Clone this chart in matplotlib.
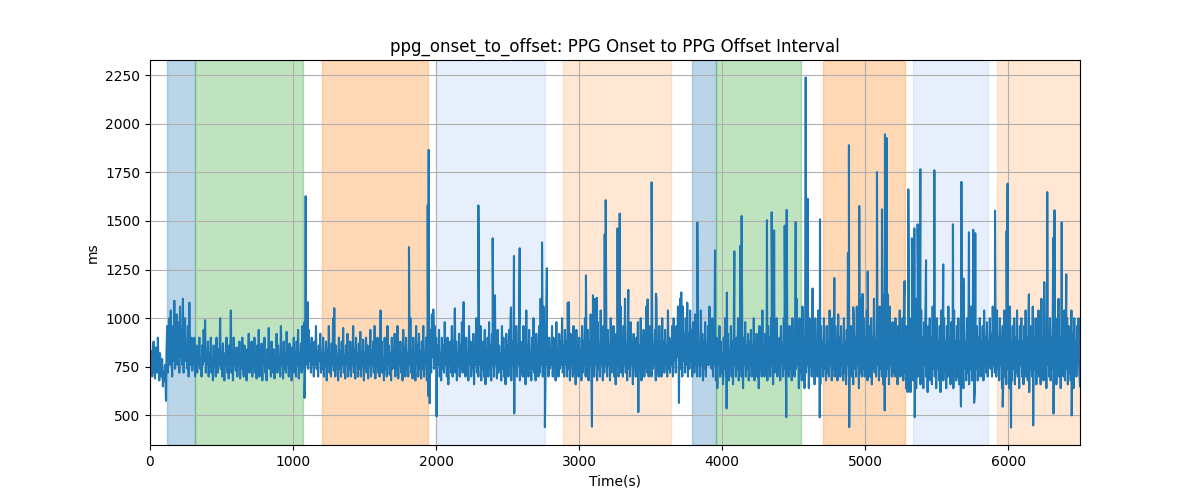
import matplotlib.pyplot as plt
import numpy as np

# baseline readings, one every 5 s from 0 to 6500
BASE_STEP = 5
base_values = [
    870, 760, 830, 700, 800, 880, 740, 690, 850, 780, 720, 900, 760, 680, 820, 740, 700, 790, 650, 720,
    680, 760, 640, 820, 960, 720, 880, 1000, 760, 1040, 820, 700, 960, 780, 1090, 740, 900, 1020, 760, 860,
    980, 720, 1060, 800, 940, 760, 1100, 720, 880, 1000, 780, 860, 740, 960, 700, 1080, 820, 760, 900, 730,
    840, 760, 900, 700, 780, 860, 720, 830, 760, 900, 740, 800, 700, 860, 760, 940, 780, 990, 720, 820,
    760, 880, 700, 820, 750, 900, 720, 790, 680, 860, 760, 830, 700, 900, 770, 720, 840, 760, 1000, 740,
    800, 700, 870, 740, 680, 820, 760, 900, 720, 800, 690, 860, 760, 1040, 720, 830, 680, 900, 760, 800,
    730, 850, 700, 790, 760, 880, 690, 820, 740, 900, 760, 700, 860, 720, 800, 680, 840, 770, 920, 720,
    820, 740, 880, 700, 790, 760, 900, 720, 830, 690, 860, 760, 940, 700, 800, 740, 870, 680, 820, 760,
    900, 720, 790, 680, 840, 760, 950, 740, 820, 700, 880, 760, 720, 840, 690, 800, 760, 920, 720, 860,
    740, 800, 700, 960, 760, 830, 690, 880, 740, 790, 720, 930, 760, 820, 700, 870, 740, 800, 680, 850,
    760, 900, 720, 830, 700, 880, 760, 940, 690, 820, 760, 870, 720, 960, 800, 740, 980, 800, 900, 760,
    880, 740, 940, 780, 860, 720, 900, 760, 820, 700, 880, 760, 960, 740, 830, 700, 860, 780, 920, 720,
    800, 740, 900, 700, 820, 760, 880, 680, 840, 760, 960, 720, 820, 700, 870, 760, 1000, 730, 840, 700,
    860, 760, 800, 680, 900, 740, 830, 700, 880, 760, 950, 720, 810, 690, 860, 760, 920, 700, 820, 740,
    880, 700, 800, 760, 960, 720, 840, 690, 900, 760, 820, 700, 870, 740, 930, 700, 810, 760, 890, 680,
    820, 740, 900, 720, 860, 690, 800, 760, 940, 700, 830, 760, 880, 720, 960, 690, 840, 760, 900, 720,
    820, 700, 1040, 760, 880, 720, 800, 680, 900, 740, 830, 700, 960, 760, 860, 710, 820, 680, 900, 740,
    800, 760, 920, 700, 860, 740, 960, 690, 830, 760, 880, 720, 810, 680, 940, 760, 850, 700, 900, 740,
    820, 700, 880, 760, 1000, 720, 840, 690, 900, 740, 820, 680, 960, 760, 860, 700, 920, 740, 830, 690,
    880, 740, 960, 700, 820, 760, 900, 680, 1000, 600, 860, 760, 940, 720, 1020, 800, 880, 740, 960, 760,
    900, 720, 860, 760, 940, 700, 820, 680, 900, 740, 860, 720, 980, 760, 840, 700, 900, 660, 820, 760,
    880, 720, 960, 700, 840, 760, 1040, 720, 880, 680, 820, 760, 920, 700, 860, 740, 980, 720, 1000, 760,
    840, 700, 900, 740, 820, 680, 960, 760, 880, 700, 830, 740, 920, 660, 860, 760, 1000, 720, 840, 700,
    900, 760, 960, 680, 840, 740, 880, 700, 940, 660, 820, 760, 900, 700, 980, 740, 860, 680, 920, 760,
    840, 700, 1080, 760, 880, 690, 940, 720, 860, 760, 820, 680, 960, 740, 900, 700, 840, 660, 920, 760,
    860, 700, 940, 740, 1000, 680, 880, 760, 820, 640, 900, 740, 960, 700, 840, 760, 1000, 680, 880, 720,
    820, 700, 960, 760, 880, 660, 1040, 720, 860, 700, 940, 760, 820, 680, 900, 740, 1000, 720, 860, 680,
    920, 760, 840, 700, 960, 720, 1100, 760, 880, 700, 1060, 800, 940, 720, 1000, 760, 880, 700, 900, 740,
    840, 760, 960, 700, 900, 740, 860, 680, 980, 760, 840, 700, 920, 740, 880, 760, 1000, 720, 860, 700,
    940, 760, 880, 700, 1080, 740, 860, 680, 920, 760, 840, 700, 960, 720, 880, 660, 940, 760, 860, 700,
    900, 740, 840, 680, 960, 720, 880, 760, 1000, 700, 860, 740, 940, 680, 880, 760, 1020, 700, 860, 740,
    960, 700, 1100, 760, 900, 680, 980, 740, 860, 700, 1040, 760, 900, 680, 960, 720, 1060, 760, 880, 700,
    940, 760, 860, 680, 1000, 720, 880, 760, 960, 700, 840, 660, 920, 760, 1040, 700, 880, 740, 1060, 720,
    880, 700, 960, 760, 1100, 720, 860, 680, 940, 740, 880, 700, 980, 760, 860, 660, 920, 740, 840, 700,
    900, 760, 980, 700, 860, 740, 1000, 680, 880, 760, 940, 700, 860, 740, 1060, 720, 880, 700, 960, 760,
    880, 700, 1000, 740, 860, 760, 940, 680, 1100, 720, 880, 700, 960, 740, 860, 700, 1000, 760, 880, 720,
    940, 760, 860, 700, 1040, 740, 900, 720, 880, 760, 960, 700, 1000, 780, 880, 720, 960, 800, 1060, 760,
    860, 1100, 740, 960, 700, 1060, 780, 920, 720, 1000, 760, 1080, 700, 920, 740, 1040, 780, 940, 700, 980,
    840, 720, 1020, 760, 900, 700, 980, 760, 860, 700, 1040, 760, 920, 680, 880, 740, 980, 700, 860, 760,
    960, 760, 1060, 800, 900, 740, 1000, 700, 880, 760, 960, 680, 900, 640, 840, 760, 960, 700, 880, 720,
    820, 660, 900, 740, 1000, 700, 860, 760, 920, 680, 840, 740, 960, 700, 880, 660, 940, 760, 860, 700,
    900, 740, 1000, 680, 860, 760, 940, 700, 840, 640, 900, 760, 980, 700, 860, 740, 920, 680, 880, 760,
    940, 700, 860, 740, 1000, 680, 880, 760, 920, 700, 840, 640, 960, 740, 900, 700, 1040, 760, 860, 700,
    920, 760, 860, 680, 960, 740, 900, 700, 1000, 760, 860, 660, 940, 720, 880, 760, 1000, 700, 860, 740,
    900, 680, 960, 760, 860, 700, 1000, 740, 880, 660, 920, 760, 860, 700, 960, 740, 880, 680, 1000, 760,
    860, 700, 960, 740, 1100, 760, 880, 640, 1000, 720, 920, 680, 1060, 760, 880, 640, 960, 720, 1100, 760,
    900, 640, 1000, 760, 880, 700, 1120, 740, 920, 660, 1000, 760, 880, 700, 1040, 740, 900, 660, 960, 760,
    880, 700, 1000, 740, 860, 680, 960, 720, 880, 700, 1040, 760, 900, 680, 1000, 740, 860, 700, 960, 760,
    880, 680, 1020, 740, 900, 700, 960, 760, 860, 680, 1000, 720, 880, 660, 940, 760, 1060, 700, 880, 720,
    960, 700, 880, 660, 1000, 740, 900, 700, 1060, 760, 880, 640, 960, 720, 1100, 700, 880, 740, 1000, 700,
    900, 760, 1040, 680, 880, 740, 960, 700, 1000, 660, 900, 740, 1100, 720, 880, 700, 1000, 760, 920, 680,
    1060, 740, 900, 700, 1000, 660, 1120, 760, 940, 700, 1000, 740, 880, 660, 1060, 760, 900, 700, 980, 720,
    880, 700, 1000, 740, 900, 660, 960, 760, 1040, 700, 880, 740, 1000, 680, 1100, 720, 880, 640, 960, 620,
    880, 740, 1000, 620, 900, 700, 1060, 680, 960, 740, 1100, 640, 880, 700, 1000, 760, 900, 660, 1040, 720,
    900, 640, 980, 760, 1060, 700, 880, 620, 960, 740, 1000, 680, 900, 660, 1060, 740, 880, 700, 960, 640,
    1000, 740, 880, 680, 960, 620, 1040, 720, 900, 680, 1000, 740, 880, 640, 960, 700, 1060, 740, 900, 660,
    980, 720, 900, 640, 1040, 740, 880, 680, 960, 700, 1000, 660, 880, 720, 1060, 700, 900, 640, 960, 740,
    880, 680, 1000, 720, 900, 660, 980, 740, 1060, 680, 900, 700, 1000, 620, 880, 740, 960, 680, 900, 760,
    1000, 700, 880, 740, 960, 680, 1040, 760, 900, 720, 980, 700, 880, 760, 1000, 740, 920, 700, 1060, 760,
    880, 720, 960, 700, 1040, 740, 900, 680, 1000, 760, 880, 640, 960, 720, 1040, 700, 880, 660, 1000, 740,
    900, 640, 1060, 720, 880, 680, 960, 740, 1000, 660, 900, 720, 1040, 700, 880, 640, 960, 760, 1000, 700,
    880, 660, 960, 740, 1040, 700, 900, 680, 1000, 620, 880, 740, 960, 700, 1060, 680, 900, 740, 1000, 660,
    880, 720, 1040, 700, 960, 660, 1100, 740, 900, 680, 1000, 720, 880, 640, 1060, 760, 920, 700, 1000, 680,
    900, 740, 1060, 680, 960, 720, 1000, 660, 880, 740, 1100, 700, 900, 640, 1000, 760, 920, 700, 1040, 680,
    900, 740, 1000, 660, 960, 720, 880, 680, 1040, 700, 920, 640, 1000, 740, 880, 700, 960, 760, 1000, 720,
    650,
]

# isolated spikes (time s, ms)
spike_times = [
    112, 1080, 1088, 1102, 1288, 1614, 1810, 1941, 1948, 1955, 1980, 2003, 2131, 2192,
    2295, 2395, 2411, 2523, 2544, 2546, 2584, 2740, 2760, 2774, 2928, 3047, 3089, 3096,
    3124, 3178, 3185, 3268, 3283, 3343, 3413, 3478, 3506, 3536, 3697, 3713, 3825, 3949,
    4030, 4032, 4084, 4126, 4135, 4312, 4345, 4362, 4436, 4447, 4450, 4513, 4583, 4597,
    4631, 4681, 4683, 4783, 4878, 4885, 4887, 4915, 4957, 4980, 5016, 5081, 5116, 5135,
    5137, 5149, 5158, 5274, 5300, 5325, 5342, 5345, 5365, 5384, 5424, 5482, 5544, 5612,
    5668, 5671, 5685, 5724, 5754, 5760, 5768, 5906, 5960, 5987, 5994, 6018, 6143, 6173,
    6250, 6271, 6313, 6315, 6322, 6372, 6404, 6442,
]
spike_values = [
    575, 590, 1628, 1083, 1052, 1037, 1366, 1581, 1866, 563, 1045, 495, 1051, 1083,
    1580, 1411, 1118, 1056, 1320, 510, 1360, 1390, 440, 1257, 1082, 1220, 442, 1118,
    1105, 1431, 1607, 1462, 1538, 1146, 517, 1097, 1699, 1126, 564, 1133, 1492, 1349,
    536, 1132, 1344, 1372, 1526, 1504, 1545, 1452, 1476, 491, 1557, 1495, 2238, 1614,
    1153, 490, 1509, 1207, 1337, 1890, 440, 1057, 1577, 1125, 1240, 1752, 1560, 526,
    1946, 1927, 1122, 1191, 1663, 1411, 1462, 491, 1483, 1766, 1298, 1761, 1277, 1483,
    546, 1701, 1205, 1442, 1455, 565, 1437, 1553, 545, 1449, 1692, 438, 1123, 449,
    1186, 1649, 1413, 510, 1555, 1493, 1226, 500,
]

# shaded phases
span_starts = [120, 315, 1202, 1999, 2886, 3788, 3955, 4703, 5332, 5919]
span_ends = [315, 1069, 1943, 2760, 3641, 3955, 4549, 5276, 5856, 6500]
span_colors = ["tab:blue", "tab:green", "tab:orange", "cornflowerblue", "tab:orange",
               "tab:blue", "tab:green", "tab:orange", "cornflowerblue", "tab:orange"]
span_alphas = [0.3, 0.3, 0.3, 0.15, 0.18, 0.3, 0.3, 0.3, 0.15, 0.18]


def build_series():
    t = np.concatenate([np.arange(len(base_values)) * BASE_STEP, spike_times])
    v = np.concatenate([base_values, spike_values])
    order = np.argsort(t, kind="stable")
    return t[order], v[order]


def main():
    t, v = build_series()

    fig, ax = plt.subplots(figsize=(12, 5), dpi=100)
    for s, e, c, a in zip(span_starts, span_ends, span_colors, span_alphas):
        ax.axvspan(s, e, color=c, alpha=a)
    ax.plot(t, v, color="tab:blue")

    ax.set_xlim(t.min(), t.max())
    ax.set_title("ppg_onset_to_offset: PPG Onset to PPG Offset Interval")
    ax.set_xlabel("Time(s)")
    ax.set_ylabel("ms")
    ax.grid(True)

    fig.savefig("out.png")


if __name__ == "__main__":
    main()
